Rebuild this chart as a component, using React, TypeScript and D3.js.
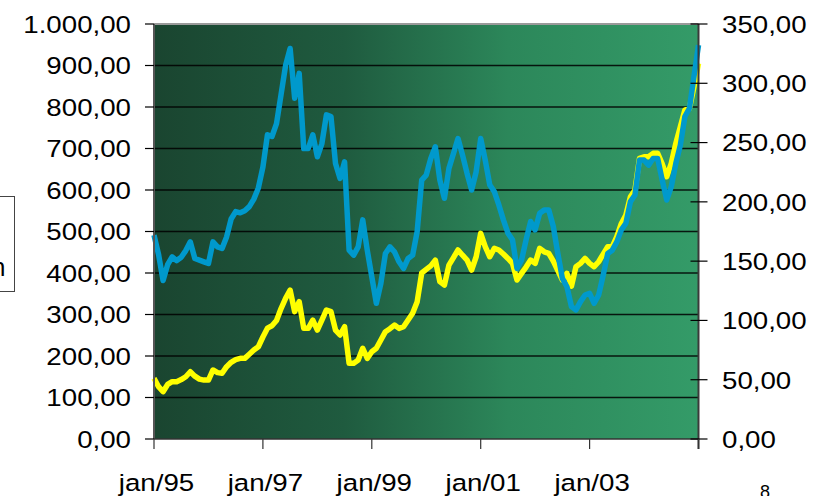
import React from "react";
import * as d3 from "d3";

// monthly index 0 = jan/95 ... 120 = jan/05
const blueSeries: number[] = [
  491, 445, 382, 420, 439, 430, 438, 454, 475, 435,
  431, 427, 423, 475, 463, 459, 487, 530, 548, 545,
  550, 560, 578, 605, 655, 733, 729, 760, 830, 900,
  941, 821, 881, 700, 700, 733, 680, 712, 781, 777,
  664, 628, 668, 455, 443, 463, 528, 455, 391, 327,
  375, 447, 463, 451, 427, 411, 435, 443, 500, 624,
  636, 676, 704, 624, 580, 652, 688, 724, 684, 640,
  600, 644, 724, 672, 612, 596, 564, 528, 496, 480,
  411, 431, 480, 524, 504, 544, 552, 552, 512, 447,
  387, 367, 319, 311, 331, 347, 351, 327, 347, 395,
  447, 455, 475, 504, 520, 572, 588, 672, 672, 660,
  676, 676, 624, 576, 608, 664, 708, 777, 797, 873,
  949,
];

const yellowSeries: number[] = [
  51.2, 44.1, 39.9, 46, 48.3, 48.3, 50.1, 52.5, 56.7, 53,
  50.5, 49.7, 49.7, 58.2, 56, 55.4, 61, 64.7, 67, 68,
  68, 71.5, 75, 77.8, 86, 93.5, 95.5, 100, 110, 118.6,
  125.6, 107.4, 115.8, 93.3, 93.3, 100.3, 91.9, 100.3, 108.8, 107.4,
  91.9, 87.7, 94.7, 63.8, 63.8, 66.6, 76.5, 68, 73.6, 76.5,
  83.5, 90.5, 93, 96.1, 93.3, 94.7, 100.3, 106, 115.8, 140,
  143, 146, 150.9, 132.7, 129.8, 146.7, 153, 159.4, 155, 150.9,
  142.5, 153.7, 173.4, 162.2, 153.7, 160.8, 159.4, 156, 152.3, 148.1,
  134.1, 139.7, 145, 150.9, 148.1, 160.8, 157.9, 156.6, 150, 142,
  134.1, 139.7, 129, 145.3, 148.1, 152.3, 148.1, 145.3, 149.5, 156,
  162.2, 162.2, 170.6, 181.8, 188.9, 204.3, 210, 236.7, 238, 238,
  240.9, 240.9, 232, 221.2, 232.4, 249.3, 263.3, 277.4, 278.8, 297,
  316.8,
];

const xTickIndex: number[] = [0, 24, 48, 72, 96, 120];
const xTickLabels: string[] = ["jan/95", "jan/97", "jan/99", "jan/01", "jan/03", ""];
const leftTicks: number[] = [0, 100, 200, 300, 400, 500, 600, 700, 800, 900, 1000];
const rightTicks: number[] = [0, 50, 100, 150, 200, 250, 300, 350];

const W = 824;
const H = 496;
const PL = 154;
const PR = 698.5;
const PT = 24;
const PB = 439;

const ptBR = d3.formatLocale({
  decimal: ",",
  thousands: ".",
  grouping: [3],
  currency: ["R$", ""],
});
const fmt = ptBR.format(",.2f");

const FONT = "'Liberation Sans', Arial, sans-serif";
const STRETCH = 1.13;

function Label(props: {
  x: number;
  y: number;
  anchor: "start" | "middle" | "end";
  dy?: string;
  children: React.ReactNode;
}) {
  return (
    <text
      transform={`translate(${props.x},${props.y}) scale(${STRETCH},1)`}
      textAnchor={props.anchor}
      dy={props.dy}
      style={{ fontFamily: FONT, fontSize: 24.5 }}
      fill="#000"
    >
      {props.children}
    </text>
  );
}

export default function App() {
  const x = d3.scaleLinear().domain([0, 120]).range([PL, PR]);
  const yL = d3.scaleLinear().domain([0, 1000]).range([PB, PT]);
  const yR = d3.scaleLinear().domain([0, 350]).range([PB, PT]);

  const blueLine = d3
    .line<number>()
    .x((_, i) => x(i))
    .y((d) => yL(d));
  const yellowLine = d3
    .line<number>()
    .x((_, i) => x(i))
    .y((d) => yR(d));

  return (
    <svg
      width={W}
      height={H}
      viewBox={`0 0 ${W} ${H}`}
      style={{ position: "absolute", left: 0, top: 0, background: "#fff" }}
    >
      <defs>
        <linearGradient id="bg" x1="0" y1="0" x2="1" y2="0">
          <stop offset="0%" stopColor="#1a4530" />
          <stop offset="35%" stopColor="#1f5b3f" />
          <stop offset="65%" stopColor="#2c875a" />
          <stop offset="100%" stopColor="#349b68" />
        </linearGradient>
      </defs>

      <rect x={PL} y={PT} width={PR - PL} height={PB - PT} fill="url(#bg)" />

      {/* gridlines */}
      {leftTicks
        .filter((t) => t > 0 && t < 1000)
        .map((t) => (
          <line
            key={"g" + t}
            x1={PL}
            x2={PR}
            y1={yL(t)}
            y2={yL(t)}
            stroke="#000"
            strokeWidth={1.6}
            opacity={0.85}
          />
        ))}

      {/* top border */}
      <line x1={PL} x2={PR} y1={PT} y2={PT} stroke="#9a9a9a" strokeWidth={2} />

      {/* series */}
      <path
        d={yellowLine(yellowSeries) || ""}
        fill="none"
        stroke="#ffff00"
        strokeWidth={5.5}
        strokeLinejoin="round"
      />
      <path
        d={blueLine(blueSeries) || ""}
        fill="none"
        stroke="#0099cc"
        strokeWidth={5.5}
        strokeLinejoin="round"
      />

      {/* axes lines */}
      <line x1={PL} x2={PL} y1={PT} y2={PB} stroke="#555" strokeWidth={2} />
      <line x1={PR} x2={PR} y1={PT} y2={PB + 10} stroke="#3a3a3a" strokeWidth={2} />
      <line x1={PL} x2={PR} y1={PB} y2={PB} stroke="#333" strokeWidth={1.5} />

      {/* left ticks + labels */}
      {leftTicks.map((t) => (
        <g key={"l" + t}>
          <line x1={PL - 9} x2={PL} y1={yL(t)} y2={yL(t)} stroke="#000" strokeWidth={1.2} />
          <Label x={131} y={yL(t)} dy="0.36em" anchor="end">
            {fmt(t)}
          </Label>
        </g>
      ))}

      {/* right ticks + labels */}
      {rightTicks.map((t) => (
        <g key={"r" + t}>
          <line x1={PR - 8} x2={PR + 9} y1={yR(t)} y2={yR(t)} stroke="#000" strokeWidth={1.2} />
          <Label x={722} y={yR(t)} dy="0.36em" anchor="start">
            {fmt(t)}
          </Label>
        </g>
      ))}

      {/* x ticks + labels */}
      {xTickIndex.map((t, i) => (
        <g key={"x" + t}>
          <line x1={x(t)} x2={x(t)} y1={PB} y2={PB + 10} stroke="#333" strokeWidth={1.2} />
          <Label x={x(t) + 2.5} y={490.5} anchor="middle">
            {xTickLabels[i]}
          </Label>
        </g>
      ))}

      {/* cut-off legend box at left */}
      <rect x={-2} y={196.5} width={16.5} height={95} fill="none" stroke="#444" strokeWidth={1} />
      <text x={5.5} y={276} textAnchor="end" style={{ fontFamily: FONT, fontSize: 25 }}>
        n
      </text>

      {/* page number */}
      <text x={765} y={497.5} textAnchor="middle" style={{ fontFamily: FONT, fontSize: 18 }}>
        8
      </text>
    </svg>
  );
}
